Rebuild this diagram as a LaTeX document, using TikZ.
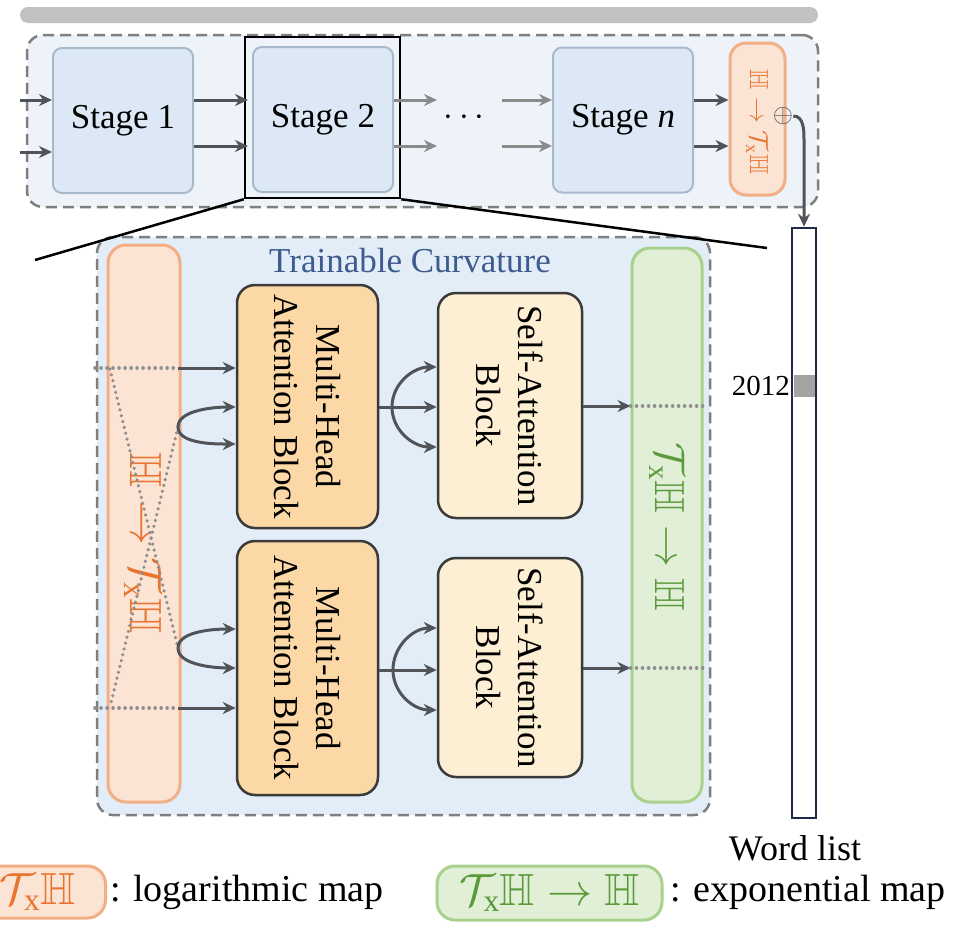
\RequirePackage{fix-cm}
\documentclass[tikz,border=0pt]{standalone}
\usepackage{amssymb}
\usepackage{fontspec}
\setmainfont{LiberationSerif}[Extension=.ttf, UprightFont=*-Regular, ItalicFont=*-Italic, BoldFont=*-Bold, BoldItalicFont=*-BoldItalic]
\newfontfamily\tnr{LiberationSerif}[Extension=.ttf, UprightFont=*-Regular, ItalicFont=*-Italic, BoldFont=*-Bold, BoldItalicFont=*-BoldItalic]
\usetikzlibrary{arrows.meta}
\definecolor{barg}{HTML}{C2C2C2}
\definecolor{outerf}{HTML}{EEF3F9}
\definecolor{dashc}{HTML}{7F7F7F}
\definecolor{stagef}{HTML}{DCE8F5}
\definecolor{stageb}{HTML}{A9B9CC}
\definecolor{lowerf}{HTML}{E3EDF8}
\definecolor{orf}{HTML}{FCE4D5}
\definecolor{orb}{HTML}{F2AF85}
\definecolor{ort}{HTML}{E8742F}
\definecolor{mhaf}{HTML}{FBD8A6}
\definecolor{saf}{HTML}{FDEFD3}
\definecolor{blkb}{HTML}{3A3A3A}
\definecolor{grf}{HTML}{E1EFD7}
\definecolor{grb}{HTML}{A9D18E}
\definecolor{grt}{HTML}{5A9A3A}
\definecolor{arrc}{HTML}{505459}
\definecolor{larrc}{HTML}{8A8A8A}
\definecolor{dotc}{HTML}{8E8E8E}
\definecolor{tcc}{HTML}{3D5B8E}
\definecolor{navy}{HTML}{1F2A44}
\definecolor{mark}{HTML}{A3A3A3}
\newcommand{\fs}[1]{\tnr\fontsize{#1}{#1}\selectfont}
\begin{document}
\begin{tikzpicture}[x=1pt,y=-1pt,
  arr/.style={-{Stealth[length=13pt,width=12pt]}, line width=3pt, draw=arrc},
  larr/.style={-{Stealth[length=13pt,width=12pt]}, line width=3pt, draw=larrc},
  dotl/.style={line width=3.6pt, draw=dotc, line cap=round, dash pattern=on 0.01pt off 6pt},
  dashbox/.style={draw=dashc, line width=2.5pt, dash pattern=on 11pt off 6pt, rounded corners=16pt},
  stagebox/.style={draw=stageb, fill=stagef, line width=2pt, rounded corners=9pt, minimum width=140pt, minimum height=145pt, font=\fs{35}},
  orbar/.style={draw=orb, fill=orf, line width=3pt, rounded corners=18pt},
  grbar/.style={draw=grb, fill=grf, line width=3pt, rounded corners=18pt},
  mhabox/.style={draw=blkb, fill=mhaf, line width=2.5pt, rounded corners=18pt, minimum width=141pt},
  sabox/.style={draw=blkb, fill=saf, line width=2.5pt, rounded corners=18pt, minimum width=144pt},
  vtext/.style={rotate=-90, align=center, font=\tnr\fontsize{35pt}{42pt}\selectfont, inner sep=0pt},
]
\useasboundingbox (0,0) rectangle (974,937);
\clip (0,0) rectangle (974,937);
\fill[white] (0,0) rectangle (974,937);

% top bar and stage row
\node[fill=barg, rounded corners=8pt, minimum width=798pt, minimum height=16pt, inner sep=0pt] (bar) at (419,15) {};
\node[dashbox, fill=outerf, minimum width=791pt, minimum height=172pt] (outer) at (422.5,121) {};
\node[stagebox] (s1) at (123,120.5) {Stage 1};
\node[stagebox] (s2) at (323,119.5) {Stage 2};
\node[stagebox] (sn) at (623,120) {Stage \textit{n}};
\node[draw=black, line width=2.5pt, minimum width=155pt, minimum height=161pt, inner sep=0pt] (zoomr) at (322.5,117.5) {};
\node[orbar, rounded corners=16pt, minimum width=55pt, minimum height=152pt] (pill) at (757.5,119) {};
\node[rotate=-90, text=ort, font=\fs{26}, inner sep=0pt] (pillt) at (757,122) {$\mathbb{H}\rightarrow\mathcal{T}_{\mathrm{x}}\mathbb{H}$};
\node[font=\fs{35}, inner sep=0pt] (dots) at (464,118) {$\cdots$};

\coordinate (in1) at (20,100);
\coordinate (in2) at (20,152);
\draw[arr] (in1) -- (s1.west |- in1);
\draw[arr] (in2) -- (s1.west |- in2);
\draw[arr, shorten >=4pt] (s1.east |- 0,100) -- (s2.west |- 0,100);
\draw[arr, shorten >=4pt] (s1.east |- 0,146) -- (s2.west |- 0,146);
\coordinate (o1) at (437,100);
\coordinate (o2) at (437,146);
\draw[larr] (s2.east |- o1) -- (o1);
\draw[larr] (s2.east |- o2) -- (o2);
\coordinate (p1) at (502,100);
\coordinate (p2) at (502,146);
\draw[larr] (p1) -- (sn.west |- p1);
\draw[larr] (p2) -- (sn.west |- p2);
\draw[arr] (sn.east |- 0,100) -- (pill.west |- 0,100);
\draw[arr] (sn.east |- 0,146) -- (pill.west |- 0,146);

% word list
\node[draw=navy, fill=white, line width=2.5pt, minimum width=24pt, minimum height=590pt, inner sep=0pt] (wl) at (804,523) {};
\node[fill=mark, minimum width=21pt, minimum height=22pt, inner sep=0pt] (mk) at (804,386) {};
\node[anchor=east, font=\fs{29}, inner sep=1pt] (yr) at (791,386) {2012};
\node[font=\fs{36}, inner sep=0pt] (wlt) at (795,848) {Word list};
\node[font=\fs{26}, text=arrc, inner sep=0pt] (oplus) at (783,116) {$\oplus$};
\draw[arr] (oplus.east) to[out=0,in=90] (wl.north |- 0,140) -- (wl.north);

% lower box
\node[dashbox, fill=lowerf, minimum width=613pt, minimum height=578pt] (lower) at (403.5,526) {};
\node[text=tcc, font=\fs{35}, inner sep=0pt] (tc) at (410,261) {Trainable Curvature};
\node[orbar, minimum width=72pt, minimum height=557pt] (ob) at (144,523.5) {};
\node[grbar, minimum width=70pt, minimum height=554pt] (gb) at (667,525) {};
\node[mhabox, minimum height=243pt] (mha1) at (307.5,406.5) {};
\node[mhabox, minimum height=254pt] (mha2) at (307.5,668) {};
\node[sabox, minimum height=225pt] (sa1) at (510,405.5) {};
\node[sabox, minimum height=219pt] (sa2) at (510,667.5) {};
\node[vtext] (mha1t) at (mha1.center) {Multi-Head\\Attention Block};
\node[vtext] (mha2t) at (mha2.center) {Multi-Head\\Attention Block};
\node[vtext] (sa1t) at (sa1.center) {Self-Attention\\Block};
\node[vtext] (sa2t) at (sa2.center) {Self-Attention\\Block};
\node[rotate=-90, text=ort, font=\fs{45}, inner sep=0pt] (obt) at (143,543) {$\mathbb{H}\rightarrow\mathcal{T}_{\mathrm{x}}\mathbb{H}$};
\node[rotate=-90, text=grt, font=\fs{42}, inner sep=0pt] (gbt) at (667,527) {$\mathcal{T}_{\mathrm{x}}\mathbb{H}\rightarrow\mathbb{H}$};

% zoom lines
\coordinate (zl) at (35,260);
\coordinate (zr) at (767,248);
\draw[line width=2.5pt] (zoomr.south west) -- (zl);
\draw[line width=2.5pt] (zoomr.south east) -- (zr);

% inputs through the log map bar
\coordinate (l1) at (95,368);
\coordinate (j1) at (178,368);
\coordinate (sp1) at (178,427);
\coordinate (sp2) at (178,648);
\coordinate (j2) at (178,708);
\coordinate (l2) at (95,708);
\coordinate (d1) at (110,369);
\coordinate (d2) at (110,707);
\draw[dotl] (l1) -- (j1);
\draw[dotl] (l2) -- (j2);
\draw[dotl] (d1) -- (sp2);
\draw[dotl] (sp1) -- (d2);
\draw[arr] (j1) -- (mha1.west |- j1);
\draw[arr] (sp1) to[out=90,in=180,looseness=0.75] (mha1.west |- 0,407);
\draw[arr] (sp1) to[out=-90,in=180,looseness=0.75] (mha1.west |- 0,444);
\draw[arr] (sp2) to[out=90,in=180,looseness=0.75] (mha2.west |- 0,629);
\draw[arr] (sp2) to[out=-90,in=180,looseness=0.75] (mha2.west |- 0,668);
\draw[arr] (j2) -- (mha2.west |- j2);

% MHA to SA
\coordinate (q1) at (392,407);
\coordinate (q2) at (393,670);
\draw[arr] (mha1.east |- q1) -- (sa1.west |- q1);
\draw[arr] (q1) to[out=90,in=180] (sa1.west |- 0,367);
\draw[arr] (q1) to[out=-90,in=180] (sa1.west |- 0,447);
\draw[arr] (mha2.east |- q2) -- (sa2.west |- q2);
\draw[arr] (q2) to[out=90,in=180] (sa2.west |- 0,628);
\draw[arr] (q2) to[out=-90,in=180] (sa2.west |- 0,710);

% SA to exp map
\coordinate (e1) at (708,406);
\coordinate (e2) at (708,668);
\draw[arr] (sa1.east |- e1) -- (gb.west |- e1);
\draw[arr] (sa2.east |- e2) -- (gb.west |- e2);
\draw[dotl] (gb.west |- e1) -- (e1);
\draw[dotl] (gb.west |- e2) -- (e2);

% legend
\node[orbar, anchor=east, minimum height=52pt, inner xsep=30pt, text=ort, font=\fs{45}] (lego) at (107,892) {$\mathbb{H}\rightarrow\mathcal{T}_{\mathrm{x}}\mathbb{H}$};
\node[anchor=west, font=\fs{38}, inner sep=0pt] (legot) at (110,892) {: logarithmic map};
\node[grbar, minimum width=225pt, minimum height=54pt, inner sep=0pt, text=grt, font=\fs{45}] (legg) at (549.5,893) {$\mathcal{T}_{\mathrm{x}}\mathbb{H}\rightarrow\mathbb{H}$};
\node[anchor=west, font=\fs{38}, inner sep=0pt] (leggt) at (670,892) {: exponential map};
\end{tikzpicture}
\end{document}
